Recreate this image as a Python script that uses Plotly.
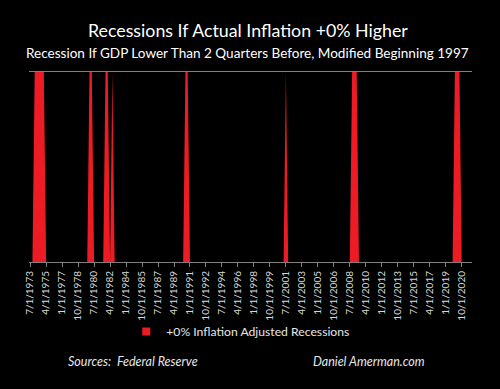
import plotly.graph_objects as go

# Quarterly categories 7/1/1973 .. 10/1/2021
quarters = []
_m = [1, 4, 7, 10]
_y, _q = 1973, 2
while len(quarters) < 194:
    quarters.append(f"{_m[_q]}/1/{_y}")
    _q += 1
    if _q == 4:
        _q = 0
        _y += 1

# Recession indicator (+0% inflation adjusted), one value per quarter
recession = [
    0, 0, 1, 1, 1, 1, 1, 0, 0, 0,
    0, 0, 0, 0, 0, 0, 0, 0, 0, 0,
    0, 0, 0, 0, 0, 0, 1, 1, 0, 0,
    0, 0, 0, 1, 1, 0, 1, 0, 0, 0,
    0, 0, 0, 0, 0, 0, 0, 0, 0, 0,
    0, 0, 0, 0, 0, 0, 0, 0, 0, 0,
    0, 0, 0, 0, 0, 0, 0, 0, 1, 1,
    0, 0, 0, 0, 0, 0, 0, 0, 0, 0,
    0, 0, 0, 0, 0, 0, 0, 0, 0, 0,
    0, 0, 0, 0, 0, 0, 0, 0, 0, 0,
    0, 0, 0, 0, 0, 0, 0, 0, 0, 0,
    0, 0, 1, 0, 0, 0, 0, 0, 0, 0,
    0, 0, 0, 0, 0, 0, 0, 0, 0, 0,
    0, 0, 0, 0, 0, 0, 0, 0, 0, 0,
    0, 1, 1, 1, 0, 0, 0, 0, 0, 0,
    0, 0, 0, 0, 0, 0, 0, 0, 0, 0,
    0, 0, 0, 0, 0, 0, 0, 0, 0, 0,
    0, 0, 0, 0, 0, 0, 0, 0, 0, 0,
    0, 0, 0, 0, 0, 0, 1, 1, 1, 0,
    0, 0, 0, 0,
]

tick_labels = [
    "7/1/1973", "4/1/1975", "1/1/1977", "10/1/1978", "7/1/1980", "4/1/1982",
    "1/1/1984", "10/1/1985", "7/1/1987", "4/1/1989", "1/1/1991", "10/1/1992",
    "7/1/1994", "4/1/1996", "1/1/1998", "10/1/1999", "7/1/2001", "4/1/2003",
    "1/1/2005", "10/1/2006", "7/1/2008", "4/1/2010", "1/1/2012", "10/1/2013",
    "7/1/2015", "4/1/2017", "1/1/2019", "10/1/2020",
]

series_name = "+0% Inflation Adjusted Recessions"
title = "Recessions If Actual Inflation +0% Higher"
subtitle = "Recession If GDP Lower Than 2 Quarters Before, Modified Beginning 1997"

RED = "#ED1C24"
FONT = "Lato"

fig = go.Figure()
fig.add_trace(go.Scatter(
    x=quarters, y=recession, name=series_name,
    mode="lines", line=dict(width=0, color=RED),
    fill="tozeroy", fillcolor=RED, showlegend=False,
))
# legend entry (square swatch)
fig.add_trace(go.Scatter(
    x=[None], y=[None], name=series_name, mode="markers",
    marker=dict(symbol="square", size=8, color=RED), showlegend=True,
))

fig.update_layout(
    width=500, height=389,
    paper_bgcolor="black", plot_bgcolor="black",
    margin=dict(l=29, r=28, t=72, b=127, autoexpand=False),
    font=dict(family=FONT, color="#d9d9d9"),
    showlegend=True,
    legend=dict(
        orientation="h", x=0.478, xanchor="center",
        yref="container", y=1 - 331.5 / 389, yanchor="middle",
        font=dict(size=12.2, color="#e6e6e6", family=FONT),
        bgcolor="rgba(0,0,0,0)", itemwidth=30,
    ),
    xaxis=dict(
        type="category", range=[-0.5, 193.5], automargin=False,
        tickmode="array", tickvals=tick_labels, ticktext=tick_labels,
        tickangle=-90, tickfont=dict(size=10, color="#d9d9d9", family=FONT),
        ticks="outside", ticklen=4, tickcolor="#808080",
        showline=True, mirror=True, linecolor="#808080", linewidth=1,
        showgrid=False, zeroline=False, layer="above traces",
    ),
    yaxis=dict(
        range=[0, 1], showticklabels=False, showgrid=False, automargin=False,
        zeroline=False, showline=False, ticks="",
    ),
    annotations=[
        dict(text=title, xref="paper", yref="paper", x=0.494, y=(261.7 - 30) / 190,
             showarrow=False, xanchor="center", yanchor="middle",
             font=dict(size=17.8, color="white", family=FONT)),
        dict(text=subtitle, xref="paper", yref="paper", x=0.494, y=(261.7 - 52.3) / 190,
             showarrow=False, xanchor="center", yanchor="middle",
             font=dict(size=13.55, color="white", family=FONT)),
        dict(text="<i>Sources:  Federal Reserve</i>", xref="paper", yref="paper",
             x=(132.5 - 29) / 442.7, y=(261.7 - 360.7) / 190,
             showarrow=False, xanchor="center", yanchor="middle",
             font=dict(size=12.5, color="#e6e6e6", family=FONT)),
        dict(text="<i>Daniel Amerman.com</i>", xref="paper", yref="paper",
             x=(368.5 - 29) / 442.7, y=(261.7 - 360.7) / 190,
             showarrow=False, xanchor="center", yanchor="middle",
             font=dict(size=12.5, color="#e6e6e6", family=FONT)),
    ],
)

fig.write_html(
    "out.html",
    config={"displayModeBar": False},
    post_script="document.body.style.margin='0';document.body.style.background='black';",
)
